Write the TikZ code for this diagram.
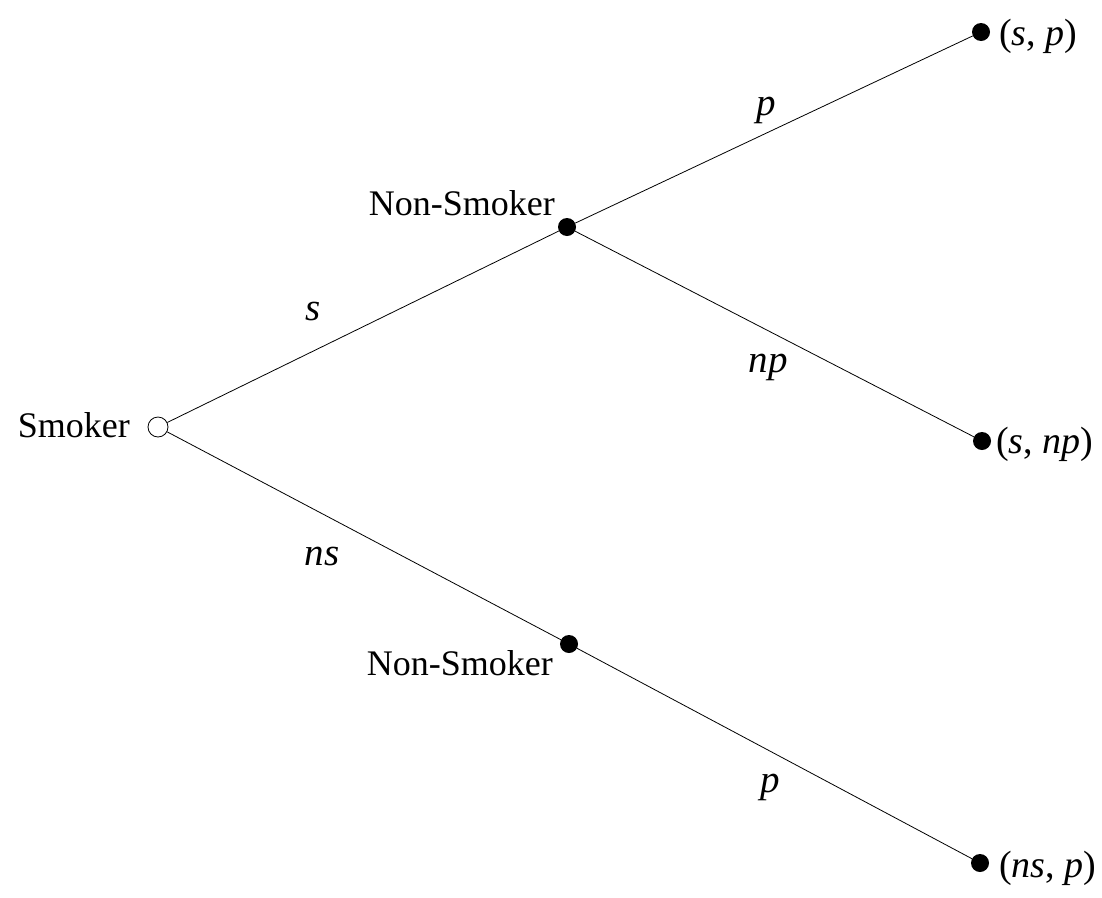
\documentclass[tikz,border=0pt]{standalone}
\usepackage{fontspec}
\setmainfont{Liberation Serif}
\begin{document}
\begin{tikzpicture}[x=1pt,y=-1pt,
  dotnode/.style={circle,fill=black,inner sep=0pt,minimum size=18pt},
  rootnode/.style={circle,draw=black,fill=white,line width=0.8pt,inner sep=0pt,minimum size=20pt},
  edge/.style={line width=0.8pt},
  lbl/.style={font=\fontsize{36}{43}\selectfont,inner sep=0pt},
  leaf/.style={font=\fontsize{38}{45}\selectfont,inner sep=0pt},
  elbl/.style={font=\fontsize{39}{46}\selectfont\itshape,inner sep=0pt}]
\useasboundingbox (0,0) rectangle (1102,897);
\node[rootnode] (root) at (158,427) {};
\node[dotnode] (n1) at (567,227) {};
\node[dotnode] (n2) at (569,644) {};
\node[dotnode] (l1) at (981,32) {};
\node[dotnode] (l2) at (982,441) {};
\node[dotnode] (l3) at (980,863) {};
\draw[edge] (root) -- (n1);
\draw[edge] (root) -- (n2);
\draw[edge] (n1) -- (l1);
\draw[edge] (n1) -- (l2);
\draw[edge] (n2) -- (l3);
\node[lbl,anchor=base east] (tsm) at (130,437) {Smoker};
\node[lbl,anchor=base east] (tn1) at (555,215) {Non-Smoker};
\node[lbl,anchor=base east] (tn2) at (553,675) {Non-Smoker};
\node[leaf,anchor=base west] (tl1) at (999,45) {(\textit{s}, \textit{p})};
\node[leaf,anchor=base west] (tl2) at (996,453) {(\textit{s}, \textit{np})};
\node[leaf,anchor=base west] (tl3) at (999,877) {(\textit{ns}, \textit{p})};
\node[elbl,anchor=base] (es) at (313,320) {s};
\node[elbl,anchor=base] (ens) at (322,565) {ns};
\node[elbl,anchor=base] (ep1) at (766,115) {p};
\node[elbl,anchor=base] (enp) at (768,372) {np};
\node[elbl,anchor=base] (ep2) at (770,792) {p};
\end{tikzpicture}
\end{document}
